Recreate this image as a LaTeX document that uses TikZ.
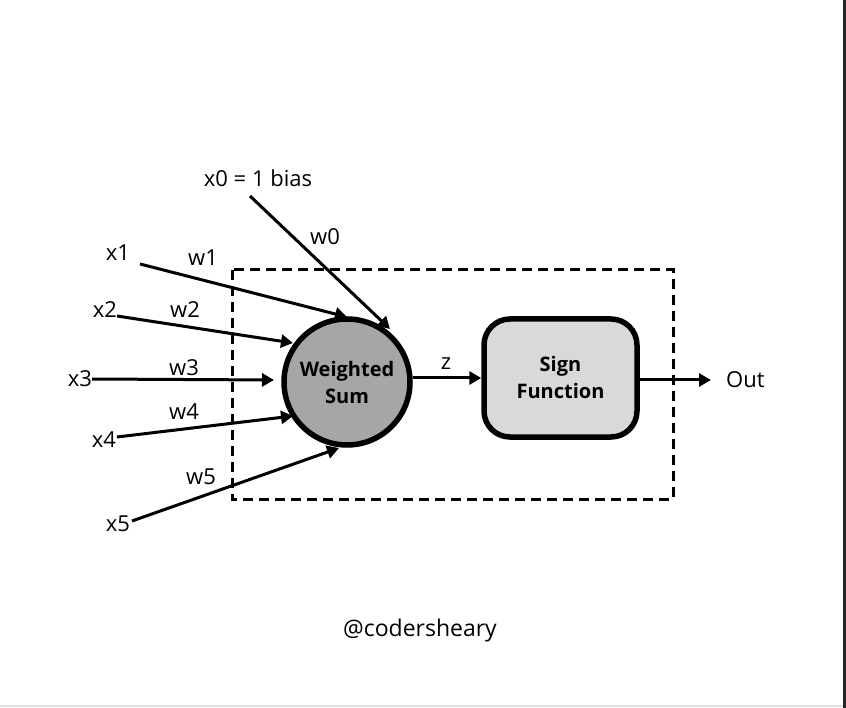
\documentclass[tikz,border=0pt]{standalone}
\usepackage{fontspec}
\setmainfont{Open Sans}
\usetikzlibrary{arrows.meta}
\definecolor{sumgray}{RGB}{166,166,166}
\definecolor{boxgray}{RGB}{217,217,217}
\tikzset{
  lbl/.style={font=\fontsize{22}{26}\selectfont, inner sep=0pt},
  inarrow/.style={line width=3pt, -{Triangle[length=12pt,width=13pt]}},
  boldlbl/.style={font=\fontsize{20}{27}\selectfont\bfseries, align=center},
}
\begin{document}
\begin{tikzpicture}[x=1pt,y=-1pt]
\useasboundingbox (0,0) rectangle (846,708);
\fill[white] (0,0) rectangle (846,708);
\draw[line width=3pt, color=black!85] (844.5,0) -- (844.5,708);
\draw[line width=1.5pt, color=black!12] (0,706) -- (843,706);
% dashed frame
\draw[line width=3pt, dash pattern=on 10pt off 6pt] (232,270) rectangle (673,499);
% main nodes
\node[circle, draw, line width=5.5pt, fill=sumgray, minimum size=126pt, boldlbl] (sum) at (347,382) {Weighted\\Sum};
\node[draw, line width=5.5pt, fill=boxgray, rounded corners=26pt, minimum width=153pt, minimum height=118pt, boldlbl] (sign) at (560.5,378) {Sign\\Function};
% output
\node[lbl, anchor=west] (out) at (726,380) {Out};
\coordinate (outtip) at (711,380);
\draw[inarrow] (sign.east |- outtip) -- (outtip);
\draw[inarrow] (sum.east |- sign) -- (sign.west);
\node[lbl] (z) at (446,364) {z};
% inputs
\node[lbl] (x0) at (258,178) {x0 = 1 bias};
\node[lbl] (x1) at (118,253) {x1};
\node[lbl] (x2) at (105,310) {x2};
\node[lbl] (x3) at (80,379) {x3};
\node[lbl] (x4) at (104,440) {x4};
\node[lbl] (x5) at (118,524) {x5};
\coordinate (s0) at (250,196); \coordinate (t0) at (390,329);
\coordinate (s1) at (140,264); \coordinate (t1) at (347,317);
\coordinate (s2) at (117,316); \coordinate (t2) at (293,343);
\coordinate (s3) at (92,379);  \coordinate (t3) at (274,380);
\coordinate (s4) at (117,437); \coordinate (t4) at (293,416);
\coordinate (s5) at (132,521); \coordinate (t5) at (339,448);
\draw[inarrow] (s0) -- (t0);
\draw[inarrow] (s1) -- (t1);
\draw[inarrow] (s2) -- (t2);
\draw[inarrow] (s3) -- (t3);
\draw[inarrow] (s4) -- (t4);
\draw[inarrow] (s5) -- (t5);
\node[lbl] (w0) at (325,237) {w0};
\node[lbl] (w1) at (203,258) {w1};
\node[lbl] (w2) at (185,310) {w2};
\node[lbl] (w3) at (184,368) {w3};
\node[lbl] (w4) at (184,412) {w4};
\node[lbl] (w5) at (201,477) {w5};
\node[font=\fontsize{23}{26}\selectfont] (credit) at (420,631) {@codersheary};
\end{tikzpicture}
\end{document}
